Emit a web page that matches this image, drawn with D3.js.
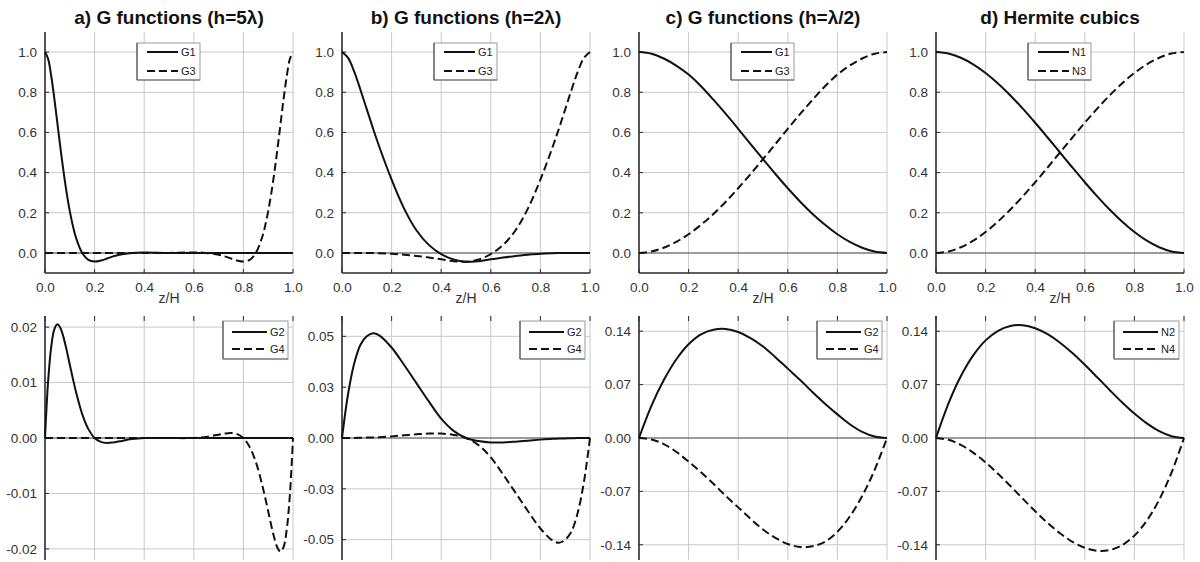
<!DOCTYPE html>
<html>
<head>
<meta charset="utf-8">
<script src="https://cdn.jsdelivr.net/npm/d3@7"></script>
<style>
  body { margin: 0; background: #fff; }
  svg { display: block; font-family: "Liberation Sans", Arial, sans-serif; }
</style>
</head>
<body>
<svg id="chart" width="1200" height="562"></svg>
<script>
// ---------- data ----------
// a) h = 5λ
const zA = [0, 0.0125, 0.025, 0.0375, 0.05, 0.0625, 0.075, 0.0875, 0.1, 0.1125, 0.125, 0.15, 0.175, 0.2, 0.225, 0.25, 0.275, 0.3, 0.35, 0.4,
            0.5,
            0.6, 0.65, 0.7, 0.725, 0.75, 0.775, 0.8, 0.825, 0.85, 0.875, 0.8875, 0.9, 0.9125, 0.925, 0.9375, 0.95, 0.9625, 0.975, 0.9875, 1];
const g1A = [1.0, 0.966, 0.882, 0.770, 0.645, 0.520, 0.402, 0.298, 0.208, 0.134, 0.076, 0.0, -0.035, -0.043, -0.038, -0.028, -0.017, -0.009, 0.0, 0.002,
             0,
             0, 0, 0, 0, 0, 0, 0, 0, 0, 0, 0, 0, 0, 0, 0, 0, 0, 0, 0, 0];
const g3A = [0, 0, 0, 0, 0, 0, 0, 0, 0, 0, 0, 0, 0, 0, 0, 0, 0, 0, 0, 0,
             0,
             0.002, 0, -0.009, -0.017, -0.028, -0.038, -0.043, -0.035, 0.0, 0.076, 0.134, 0.208, 0.298, 0.402, 0.520, 0.645, 0.770, 0.882, 0.966, 1.0];
const g2A = [0, 0.0102, 0.0164, 0.0196, 0.0205, 0.0198, 0.0181, 0.0158, 0.0132, 0.0107, 0.0083, 0.0043, 0.0016, 0, -0.0007, -0.0009, -0.0008, -0.0006, -0.0002, 0,
             0,
             0, 0, 0, 0, 0, 0, 0, 0, 0, 0, 0, 0, 0, 0, 0, 0, 0, 0, 0, 0];
const g4A = [0, 0, 0, 0, 0, 0, 0, 0, 0, 0, 0, 0, 0, 0, 0, 0, 0, 0, 0, 0,
             0,
             0, 0.0002, 0.0006, 0.0008, 0.0009, 0.0007, 0, -0.0016, -0.0043, -0.0083, -0.0107, -0.0132, -0.0158, -0.0181, -0.0198, -0.0205, -0.0196, -0.0164, -0.0102, 0];

// b) h = 2λ
const zB = [0, 0.025, 0.05, 0.075, 0.1, 0.125, 0.15, 0.2, 0.25, 0.3, 0.35, 0.4, 0.45,
            0.5,
            0.55, 0.6, 0.65, 0.7, 0.75, 0.8, 0.85, 0.875, 0.9, 0.925, 0.95, 0.975, 1];
const g1B = [1.0, 0.970, 0.900, 0.810, 0.715, 0.620, 0.530, 0.365, 0.222, 0.113, 0.040, -0.006, -0.033,
             -0.044,
             -0.041, -0.032, -0.023, -0.015, -0.009, -0.004, -0.0015, -0.0007, -0.0003, 0, 0, 0, 0];
const g3B = [0, 0, 0, 0, -0.0003, -0.0007, -0.0015, -0.004, -0.009, -0.015, -0.023, -0.032, -0.041,
             -0.044,
             -0.033, -0.006, 0.040, 0.113, 0.222, 0.365, 0.530, 0.620, 0.715, 0.810, 0.900, 0.970, 1.0];
const g2B = [0, 0.022, 0.037, 0.046, 0.050, 0.0515, 0.0505, 0.0445, 0.036, 0.027, 0.018, 0.0095, 0.0035,
             0,
             -0.0015, -0.0022, -0.0022, -0.0018, -0.0013, -0.0008, -0.0004, -0.0003, -0.0002, -0.0001, 0, 0, 0];
const g4B = [0, 0, 0, 0.0001, 0.0002, 0.0003, 0.0004, 0.0008, 0.0013, 0.0018, 0.0022, 0.0022, 0.0015,
             0,
             -0.0035, -0.0095, -0.018, -0.027, -0.036, -0.0445, -0.0505, -0.0515, -0.050, -0.046, -0.037, -0.022, 0];

// c) h = λ/2
const zC = [0, 0.05, 0.1, 0.15, 0.2, 0.25, 0.3, 0.35, 0.4, 0.45, 0.5, 0.55, 0.6, 0.65, 0.7, 0.75, 0.8, 0.85, 0.9, 0.95, 1];
const g1C = [1.0, 0.992, 0.968, 0.933, 0.888, 0.830, 0.763, 0.692, 0.618, 0.542, 0.467, 0.393, 0.322, 0.255, 0.194, 0.140, 0.093, 0.055, 0.026, 0.007, 0];
const g3C = [0, 0.007, 0.026, 0.055, 0.093, 0.140, 0.194, 0.255, 0.322, 0.393, 0.467, 0.542, 0.618, 0.692, 0.763, 0.830, 0.888, 0.933, 0.968, 0.992, 1.0];
const g2C = [0, 0.042, 0.076, 0.103, 0.123, 0.136, 0.142, 0.143, 0.139, 0.131, 0.120, 0.106, 0.091, 0.076, 0.060, 0.045, 0.031, 0.018, 0.008, 0.002, 0];
const g4C = [0, -0.002, -0.008, -0.018, -0.031, -0.045, -0.060, -0.076, -0.091, -0.106, -0.120, -0.131, -0.139, -0.143, -0.142, -0.136, -0.123, -0.103, -0.076, -0.042, 0];

// d) Hermite cubics
const zD = [0, 0.05, 0.1, 0.15, 0.2, 0.25, 0.3, 0.35, 0.4, 0.45, 0.5, 0.55, 0.6, 0.65, 0.7, 0.75, 0.8, 0.85, 0.9, 0.95, 1];
const n1 = [1, 0.99275, 0.972, 0.93925, 0.896, 0.84375, 0.784, 0.71825, 0.648, 0.57475, 0.5, 0.42525, 0.352, 0.28175, 0.216, 0.15625, 0.104, 0.06075, 0.028, 0.00725, 0];
const n3 = [0, 0.00725, 0.028, 0.06075, 0.104, 0.15625, 0.216, 0.28175, 0.352, 0.42525, 0.5, 0.57475, 0.648, 0.71825, 0.784, 0.84375, 0.896, 0.93925, 0.972, 0.99275, 1];
const n2 = [0, 0.045125, 0.081, 0.108375, 0.128, 0.140625, 0.147, 0.147875, 0.144, 0.136125, 0.125, 0.111375, 0.096, 0.079625, 0.063, 0.046875, 0.032, 0.019125, 0.009, 0.002375, 0];
const n4 = [0, -0.002375, -0.009, -0.019125, -0.032, -0.046875, -0.063, -0.079625, -0.096, -0.111375, -0.125, -0.136125, -0.144, -0.147875, -0.147, -0.140625, -0.128, -0.108375, -0.081, -0.045125, 0];

// ---------- ticks and labels ----------
const titles = ["a) G functions (h=5\u03BB)", "b) G functions (h=2\u03BB)", "c) G functions (h=\u03BB/2)", "d) Hermite cubics"];
const xTicks = [0, 0.2, 0.4, 0.6, 0.8, 1.0];
const topTicks = [0, 0.2, 0.4, 0.6, 0.8, 1.0];
const botTicksA = [-0.02, -0.01, 0, 0.01, 0.02];
const botLabelsA = ["-0.02", "-0.01", "0.00", "0.01", "0.02"];
const botTicksB = [-0.05, -0.025, 0, 0.025, 0.05];
const botLabelsB = ["-0.05", "-0.03", "0.00", "0.03", "0.05"];
const botTicksC = [-0.14, -0.07, 0, 0.07, 0.14];
const botLabelsC = ["-0.14", "-0.07", "0.00", "0.07", "0.14"];
const topNames = [["G1", "G3"], ["G1", "G3"], ["G1", "G3"], ["N1", "N3"]];
const botNames = [["G2", "G4"], ["G2", "G4"], ["G2", "G4"], ["N2", "N4"]];

// ---------- layout ----------
const svg = d3.select("#chart");
const colX = [45, 342, 639, 936];
const plotW = 248;
const topRow = { top: 32, bottom: 273 };
const botRow = { top: 316, bottom: 560 };

const columns = [
  { z: zA, top: [g1A, g3A], bot: [g2A, g4A], botDomain: [-0.022, 0.022], botTicks: botTicksA, botLabels: botLabelsA },
  { z: zB, top: [g1B, g3B], bot: [g2B, g4B], botDomain: [-0.06, 0.06],   botTicks: botTicksB, botLabels: botLabelsB },
  { z: zC, top: [g1C, g3C], bot: [g2C, g4C], botDomain: [-0.16, 0.16],   botTicks: botTicksC, botLabels: botLabelsC },
  { z: zD, top: [n1, n3],   bot: [n2, n4],   botDomain: [-0.16, 0.16],   botTicks: botTicksC, botLabels: botLabelsC }
];

const gridColor = "#c9c9c9";
const axisColor = "#2a2a2a";
const textColor = "#333";

function drawPanel(x0, row, yDomain, yTicks, yLabels, z, seriesList, names, legend, isTop) {
  const x = d3.scaleLinear().domain([0, 1]).range([x0, x0 + plotW]);
  const y = d3.scaleLinear().domain(yDomain).range([row.bottom, row.top]);
  const g = svg.append("g");

  // grid
  g.selectAll(".vg").data(xTicks.filter(d => d > 0)).enter().append("line")
    .attr("x1", d => x(d)).attr("x2", d => x(d))
    .attr("y1", row.top).attr("y2", row.bottom)
    .attr("stroke", gridColor).attr("stroke-width", 1);
  g.selectAll(".hg").data(yTicks.filter(d => d !== 0)).enter().append("line")
    .attr("x1", x(0)).attr("x2", x(1))
    .attr("y1", d => y(d)).attr("y2", d => y(d))
    .attr("stroke", gridColor).attr("stroke-width", 1);

  // zero reference line
  g.append("line")
    .attr("x1", x(0)).attr("x2", x(1))
    .attr("y1", y(0)).attr("y2", y(0))
    .attr("stroke", "#7a7a7a").attr("stroke-width", 1.5);

  // left axis
  const yAxis = d3.axisLeft(y).tickValues(yTicks).tickSize(0).tickPadding(8)
    .tickFormat((d, i) => yLabels[i]);
  const ya = g.append("g").attr("transform", `translate(${x0},0)`).call(yAxis);
  ya.select(".domain").attr("stroke", axisColor).attr("stroke-width", 1.6)
    .attr("d", `M0,${row.top}V${row.bottom}`);
  ya.selectAll("text").attr("fill", textColor).style("font-size", "13.5px")
    .style("font-family", "'Liberation Sans', Arial, sans-serif");
  // inward ticks on the left axis
  g.selectAll(".lt").data(yTicks).enter().append("line")
    .attr("x1", x0).attr("x2", x0 + 4)
    .attr("y1", d => y(d)).attr("y2", d => y(d))
    .attr("stroke", axisColor).attr("stroke-width", 1);

  if (isTop) {
    const xAxis = d3.axisBottom(x).tickValues(xTicks).tickSize(0).tickPadding(9)
      .tickFormat(d3.format(".1f"));
    const xa = g.append("g").attr("transform", `translate(0,${row.bottom})`).call(xAxis);
    xa.select(".domain").attr("stroke", axisColor).attr("stroke-width", 1.6)
      .attr("d", `M${x0},0H${x0 + plotW}`);
    xa.selectAll("text").attr("fill", textColor).style("font-size", "13.5px")
      .style("font-family", "'Liberation Sans', Arial, sans-serif");
    g.selectAll(".bt").data(xTicks).enter().append("line")
      .attr("x1", d => x(d)).attr("x2", d => x(d))
      .attr("y1", row.bottom).attr("y2", row.bottom - 4)
      .attr("stroke", axisColor).attr("stroke-width", 1);
    g.append("text")
      .attr("x", x(0.5)).attr("y", row.bottom + 30)
      .attr("text-anchor", "middle").attr("fill", textColor)
      .style("font-size", "14px").text("z/H");
  } else {
    // short tick marks along the upper edge
    g.selectAll(".tt").data(xTicks).enter().append("line")
      .attr("x1", d => x(d)).attr("x2", d => x(d))
      .attr("y1", row.top).attr("y2", row.top + 5)
      .attr("stroke", axisColor).attr("stroke-width", 1);
  }

  // curves
  const line = d3.line()
    .x(d => x(d[0])).y(d => y(d[1]))
    .curve(d3.curveCatmullRom.alpha(0.5));
  const dashes = [null, "8,4"];
  seriesList.forEach((vals, i) => {
    g.append("path")
      .datum(z.map((zz, k) => [zz, vals[k]]))
      .attr("d", line)
      .attr("fill", "none")
      .attr("stroke", "#111")
      .attr("stroke-width", 2)
      .attr("stroke-linejoin", "round")
      .attr("stroke-dasharray", dashes[i]);
  });

  // legend
  const lg = g.append("g").attr("transform", `translate(${legend.x},${legend.y})`);
  lg.append("rect").attr("width", legend.w).attr("height", legend.h)
    .attr("fill", "#fff").attr("stroke", "#9a9a9a").attr("stroke-width", 1);
  lg.append("line").attr("x1", 0).attr("x2", 0).attr("y1", 0).attr("y2", legend.h)
    .attr("stroke", "#555").attr("stroke-width", 1.2);
  lg.append("line").attr("x1", 0).attr("x2", legend.w).attr("y1", legend.h).attr("y2", legend.h)
    .attr("stroke", "#666").attr("stroke-width", 1.2);
  names.forEach((nm, i) => {
    const yy = legend.rows[i];
    lg.append("line").attr("x1", legend.l0).attr("x2", legend.l1)
      .attr("y1", yy).attr("y2", yy)
      .attr("stroke", "#111").attr("stroke-width", 2)
      .attr("stroke-dasharray", dashes[i]);
    lg.append("text").attr("x", legend.l1 + 3).attr("y", yy + 4)
      .attr("fill", "#222").style("font-size", "11px").text(nm);
  });
}

columns.forEach((c, i) => {
  const x0 = colX[i];
  // title
  svg.append("text")
    .attr("x", x0 + plotW / 2).attr("y", 24)
    .attr("text-anchor", "middle")
    .attr("fill", "#111")
    .style("font-size", "19px").style("font-weight", "bold")
    .text(titles[i]);

  drawPanel(x0, topRow, [-0.1, 1.1], topTicks, topTicks.map(d3.format(".1f")), c.z, c.top, topNames[i],
    { x: x0 + 92, y: 43, w: 63, h: 37, l0: 10, l1: 41, rows: [9, 28] }, true);
  drawPanel(x0, botRow, c.botDomain, c.botTicks, c.botLabels, c.z, c.bot, botNames[i],
    { x: x0 + 178, y: 321, w: 65, h: 38, l0: 9, l1: 44, rows: [11, 28] }, false);
});
</script>
</body>
</html>
